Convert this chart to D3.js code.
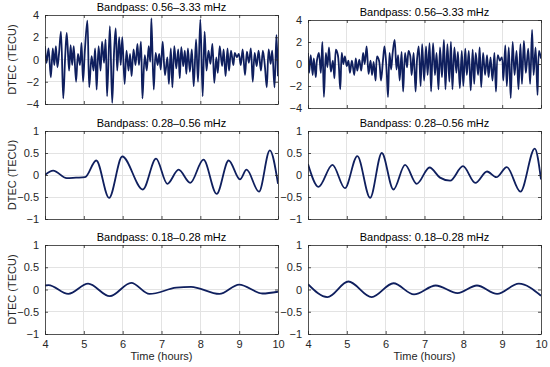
<!DOCTYPE html>
<html><head><meta charset="utf-8">
<script src="https://cdn.jsdelivr.net/npm/d3@7"></script>
<style>html,body{margin:0;padding:0;background:#fff;}svg{display:block;}</style>
</head><body>
<svg id="chart" width="550" height="367"></svg>
<script>
// ---------- data ----------
const titles = ["Bandpass: 0.56\u20133.33 mHz", "Bandpass: 0.28\u20130.56 mHz", "Bandpass: 0.18\u20130.28 mHz"];
const xTicks = [4, 5, 6, 7, 8, 9, 10];
const yTicksTop = [-4, -2, 0, 2, 4];
const yTicksLow = [-1, -0.5, 0, 0.5, 1];
const yLabel = "DTEC (TECU)";
const xLabel = "Time (hours)";

const tTopL = [4.00,4.04,4.09,4.15,4.20,4.24,4.28,4.32,4.36,4.41,4.47,4.52,4.56,4.62,4.66,4.70,4.74,4.80,4.85,4.90,4.94,4.98,5.03,5.09,5.14,5.20,5.25,5.29,5.33,5.38,5.43,5.47,5.52,5.56,5.60,5.67,5.73,5.78,5.82,5.86,5.91,5.95,5.99,6.05,6.10,6.15,6.19,6.23,6.28,6.33,6.38,6.42,6.47,6.51,6.57,6.62,6.67,6.71,6.74,6.80,6.85,6.90,6.94,6.98,7.03,7.09,7.15,7.19,7.24,7.28,7.33,7.38,7.43,7.47,7.51,7.56,7.60,7.64,7.68,7.73,7.78,7.83,7.89,7.94,8.00,8.06,8.11,8.16,8.21,8.26,8.31,8.36,8.41,8.45,8.50,8.56,8.60,8.65,8.70,8.74,8.79,8.85,8.89,8.94,8.99,9.04,9.09,9.15,9.20,9.25,9.30,9.35,9.40,9.45,9.50,9.56,9.61,9.66,9.71,9.76,9.81,9.85,9.91,9.96,10.00];
const vTopL = [1.2,-0.3,1.0,-1.6,1.0,-0.5,1.2,-0.7,0.5,2.5,-3.5,0.3,2.4,-1.0,1.3,-0.5,1.2,-2.0,0.5,-0.5,1.5,-2.0,1.0,3.5,-2.5,0.3,-1.0,1.0,-2.7,1.2,-1.0,1.6,-0.3,1.8,-3.3,3.0,-3.9,0.8,2.8,-1.0,2.0,-0.5,2.0,-2.2,0.8,-1.0,0.5,-1.5,0.9,-0.5,1.4,-0.5,1.6,-3.5,0.4,-1.0,1.2,-0.2,3.7,-2.7,0.6,-0.5,0.5,-0.9,1.6,-1.4,0.2,-2.2,1.0,-2.5,1.2,-0.8,0.9,-1.7,1.1,-0.6,0.8,-1.3,1.0,-1.1,0.9,-2.4,1.8,-2.0,3.6,-3.3,2.5,-1.0,0.8,-0.4,1.4,-2.1,0.2,-1.2,1.2,-0.6,0.9,-1.5,1.0,-1.0,0.8,-0.5,0.6,0.2,0.5,-0.5,0.9,-1.4,0.7,-0.3,1.0,-2.0,0.6,-0.6,0.8,-1.0,0.8,-0.5,-2.5,0.9,-0.4,0.8,-2.5,2.2,-1.5];

const tTopR = [4.00,4.03,4.07,4.12,4.15,4.20,4.23,4.28,4.33,4.37,4.41,4.46,4.50,4.54,4.59,4.64,4.68,4.72,4.77,4.83,4.87,4.91,4.95,5.00,5.04,5.08,5.13,5.19,5.23,5.27,5.32,5.37,5.42,5.46,5.51,5.56,5.61,5.65,5.69,5.74,5.78,5.83,5.88,5.93,5.97,6.02,6.06,6.10,6.14,6.18,6.23,6.28,6.32,6.36,6.41,6.45,6.50,6.55,6.59,6.63,6.67,6.72,6.77,6.81,6.85,6.90,6.94,6.99,7.04,7.08,7.13,7.17,7.22,7.27,7.31,7.36,7.40,7.45,7.50,7.54,7.59,7.64,7.68,7.72,7.77,7.82,7.86,7.91,7.96,8.00,8.05,8.09,8.14,8.19,8.24,8.28,8.32,8.38,8.42,8.46,8.51,8.56,8.61,8.65,8.70,8.75,8.80,8.84,8.89,8.94,8.99,9.03,9.08,9.12,9.17,9.22,9.27,9.32,9.37,9.42,9.47,9.51,9.56,9.61,9.67,9.72,9.77,9.81,9.86,9.91,9.95,10.00];
const vTopR = [1.0,-0.8,0.8,-1.0,0.5,-1.2,0.3,1.0,-0.8,2.0,-3.0,1.0,-0.3,1.5,-0.7,0.3,-1.3,1.3,0.8,-2.3,1.0,0.0,0.7,-0.2,0.3,-0.8,0.3,-1.0,0.5,-0.6,0.4,-0.6,1.0,0.0,1.6,-0.9,0.3,-1.0,0.2,-1.5,0.7,0.3,-1.5,0.3,1.6,-0.3,-3.0,1.0,-0.5,1.0,2.2,-0.5,0.8,-1.5,1.1,-2.5,1.0,-0.3,1.2,0.8,-1.0,1.0,-2.5,0.5,1.6,-2.0,1.8,-1.5,1.6,-1.0,1.9,-2.5,1.9,-1.0,1.0,-2.3,1.5,-1.2,2.2,-2.3,1.8,-1.6,2.0,-2.3,1.5,-0.8,1.1,-2.2,1.2,-2.0,1.4,-1.0,1.2,-2.4,1.3,-1.8,1.0,-1.0,1.5,-2.1,1.0,-1.0,0.8,-1.2,0.6,-1.5,1.0,-2.5,0.8,0.3,0.6,-1.5,1.7,-2.0,1.5,-3.1,2.0,-1.0,1.2,-2.3,1.8,-1.8,2.1,-0.8,1.4,-1.8,3.1,-1.0,1.5,-2.8,1.2,0.5];

const tMidL = [4.00,4.21,4.56,4.80,5.03,5.32,5.65,5.99,6.52,6.86,7.15,7.44,7.74,8.08,8.42,8.73,9.02,9.19,9.51,9.79,10.00];
const vMidL = [0.0,0.1,-0.07,-0.06,-0.05,0.33,-0.52,0.42,-0.33,0.37,-0.2,0.12,-0.18,0.35,-0.43,0.33,-0.1,0.12,-0.38,0.56,-0.2];

const tMidR = [4.00,4.27,4.63,4.95,5.27,5.60,5.90,6.20,6.50,6.80,7.13,7.40,7.66,7.99,8.31,8.61,8.85,9.12,9.47,9.84,10.00];
const vMidR = [0.25,-0.27,0.23,-0.3,0.43,-0.52,0.5,-0.33,0.23,-0.2,0.17,-0.06,-0.13,0.2,-0.18,0.08,-0.05,0.18,-0.38,0.6,-0.1];

const tLowL = [4.00,4.09,4.60,5.11,5.67,6.22,6.69,7.38,7.76,8.49,9.00,9.60,10.00];
const vLowL = [0.09,0.1,-0.1,0.13,-0.15,0.15,-0.1,0.04,0.06,-0.1,0.11,-0.09,-0.05];

const tLowR = [4.00,4.50,5.04,5.64,6.20,6.73,7.29,7.85,8.35,8.87,9.43,10.00];
const vLowR = [0.12,-0.17,0.18,-0.17,0.14,-0.11,0.09,-0.08,0.09,-0.1,0.13,-0.14];

// ---------- layout ----------
const svg = d3.select("#chart");
const font = "'Liberation Sans', Arial, Helvetica, sans-serif";
const lineColor = "#0f1f5e";
const axisColor = "#262626";
const gridColor = "#e3e3e3";

const panels = [
  {t: tTopL, v: vTopL, x0: 45, x1: 278, y0: 15, y1: 104, yDom: [-4, 4], yt: yTicksTop, title: titles[0], left: true, bottom: false, noisy: true},
  {t: tTopR, v: vTopR, x0: 308, x1: 541, y0: 20, y1: 108, yDom: [-4, 4], yt: yTicksTop, title: titles[0], left: false, bottom: false, noisy: true},
  {t: tMidL, v: vMidL, x0: 45, x1: 278, y0: 131, y1: 219, yDom: [-1, 1], yt: yTicksLow, title: titles[1], left: true, bottom: false},
  {t: tMidR, v: vMidR, x0: 308, x1: 541, y0: 131, y1: 219, yDom: [-1, 1], yt: yTicksLow, title: titles[1], left: false, bottom: false},
  {t: tLowL, v: vLowL, x0: 45, x1: 278, y0: 245, y1: 334, yDom: [-1, 1], yt: yTicksLow, title: titles[2], left: true, bottom: true},
  {t: tLowR, v: vLowR, x0: 308, x1: 541, y0: 245, y1: 334, yDom: [-1, 1], yt: yTicksLow, title: titles[2], left: false, bottom: true}
];

const fmt = d => (d < 0 ? "\u2212" : "") + String(Math.abs(d));

panels.forEach((p, i) => {
  const x = d3.scaleLinear().domain([4, 10]).range([p.x0, p.x1]);
  const y = d3.scaleLinear().domain(p.yDom).range([p.y1, p.y0]);
  const g = svg.append("g");
  const clipId = "clip" + i;
  svg.append("clipPath").attr("id", clipId).append("rect")
    .attr("x", p.x0).attr("y", p.y0).attr("width", p.x1 - p.x0).attr("height", p.y1 - p.y0);

  // grid
  g.append("g").selectAll("line").data(xTicks.slice(1, -1)).join("line")
    .attr("x1", d => x(d)).attr("x2", d => x(d)).attr("y1", p.y0).attr("y2", p.y1)
    .attr("stroke", gridColor).attr("stroke-width", 1).attr("shape-rendering", "crispEdges");
  g.append("g").selectAll("line").data(p.yt.slice(1, -1)).join("line")
    .attr("x1", p.x0).attr("x2", p.x1).attr("y1", d => y(d)).attr("y2", d => y(d))
    .attr("stroke", gridColor).attr("stroke-width", 1).attr("shape-rendering", "crispEdges");

  // line
  const data = p.t.map((t, k) => [t, p.v[k]]);
  g.append("path").datum(data)
    .attr("clip-path", `url(#${clipId})`)
    .attr("fill", "none").attr("stroke", lineColor).attr("stroke-width", 1.8)
    .attr("stroke-linejoin", "round")
    .attr("d", d3.line().x(d => x(d[0])).y(d => y(d[1]))
      .curve(p.noisy ? d3.curveCatmullRom.alpha(0.5) : d3.curveMonotoneX));

  // axes
  const ax = g.append("g").attr("transform", `translate(0,${p.y1})`)
    .call(d3.axisBottom(x).tickValues(xTicks).tickSizeInner(-3).tickSizeOuter(0).tickPadding(6)
      .tickFormat(p.bottom ? d3.format("d") : () => ""));
  const axT = g.append("g").attr("transform", `translate(0,${p.y0})`)
    .call(d3.axisTop(x).tickValues(xTicks).tickSizeInner(-3).tickSizeOuter(0).tickFormat(() => ""));
  const ay = g.append("g").attr("transform", `translate(${p.x0},0)`)
    .call(d3.axisLeft(y).tickValues(p.yt).tickSizeInner(-3).tickSizeOuter(0).tickPadding(6).tickFormat(fmt));
  const ayR = g.append("g").attr("transform", `translate(${p.x1},0)`)
    .call(d3.axisRight(y).tickValues(p.yt).tickSizeInner(-3).tickSizeOuter(0).tickFormat(() => ""));
  [ax, axT, ay, ayR].forEach(a => {
    a.selectAll("path.domain").attr("stroke", axisColor).attr("stroke-width", 0.8);
    a.selectAll(".tick line").attr("stroke", axisColor).attr("stroke-width", 0.8);
    a.selectAll("text").attr("fill", axisColor).style("font-family", font).style("font-size", "11px");
  });

  // title
  svg.append("text").attr("x", (p.x0 + p.x1) / 2).attr("y", p.y0 - 4)
    .attr("text-anchor", "middle").attr("fill", "#000")
    .style("font-family", font).style("font-size", "11px").text(p.title);

  if (p.left) {
    svg.append("text").attr("transform", `translate(16,${(p.y0 + p.y1) / 2}) rotate(-90)`)
      .attr("text-anchor", "middle").attr("fill", axisColor)
      .style("font-family", font).style("font-size", "11px").text(yLabel);
  }
  if (p.bottom) {
    svg.append("text").attr("x", (p.x0 + p.x1) / 2).attr("y", 360)
      .attr("text-anchor", "middle").attr("fill", axisColor)
      .style("font-family", font).style("font-size", "11px").text(xLabel);
  }
});
</script>
</body></html>
